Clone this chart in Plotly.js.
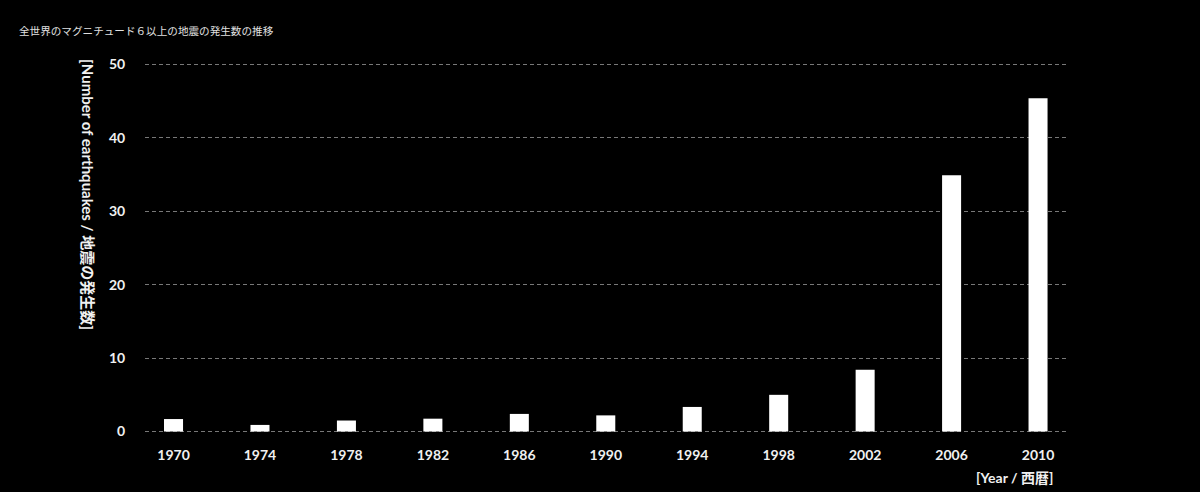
<!DOCTYPE html>
<html>
<head>
<meta charset="utf-8">
<script src="https://cdn.plot.ly/plotly-3.0.1.min.js"></script>
<style>
html,body{margin:0;padding:0;background:#000;}
#chart{width:1200px;height:492px;}
</style>
</head>
<body>
<div id="chart"></div>
<script>
const years = ["1970","1974","1978","1982","1986","1990","1994","1998","2002","2006","2010"];
const counts = [1.7, 0.9, 1.5, 1.75, 2.4, 2.2, 3.35, 5.0, 8.4, 34.9, 45.4];
const yTicks = [0, 10, 20, 30, 40, 50];
const chartTitle = "全世界のマグニチュード６以上の地震の発生数の推移";
const yTitle = "[Number of earthquakes / 地震の発生数]";
const xTitle = "[Year / 西暦]";

const fontFam = "Lato, 'Noto Sans CJK JP', sans-serif";

const trace = {
  type: "bar",
  x: years.map((_, i) => i),
  y: counts,
  marker: {color: "#ffffff", line: {width: 0}},
  width: 0.22,
  hoverinfo: "x+y"
};

const layout = {
  width: 1200, height: 492,
  paper_bgcolor: "#000", plot_bgcolor: "#000",
  margin: {l: 145, r: 133, t: 62.5, b: 58.5},
  showlegend: false,
  font: {family: fontFam, color: "#e6e6e6"},
  xaxis: {
    range: [-0.33, 10.335],
    tickmode: "array",
    tickvals: years.map((_, i) => i),
    ticktext: years.map(y => "<b>" + y + "</b>"),
    showgrid: false, zeroline: false, showline: false, ticks: "outside",
    ticklen: 9, tickcolor: "rgba(0,0,0,0)",
    tickfont: {size: 14, color: "#f0f0f0", family: fontFam}
  },
  yaxis: {
    range: [-0.2, 50.2],
    tickmode: "array",
    tickvals: yTicks,
    ticktext: yTicks.map(v => "<b>" + v + "</b>"),
    showgrid: true, gridcolor: "rgba(200,200,200,0.6)", griddash: "4px,3px", gridwidth: 1,
    zeroline: false, showline: false, ticks: "outside",
    ticklen: 16, tickcolor: "rgba(0,0,0,0)",
    tickfont: {size: 14, color: "#f0f0f0", family: fontFam}
  },
  annotations: [
    {text: chartTitle, xref: "paper", yref: "paper", x: -0.1388, y: 1.0876,
     xanchor: "left", yanchor: "middle", showarrow: false,
     font: {size: 10.6, color: "#e0e0e0", family: "'Noto Sans CJK JP', sans-serif"}},
    {text: "<b>" + yTitle + "</b>", xref: "paper", yref: "paper", x: -0.0618, y: 0.6456,
     xanchor: "center", yanchor: "middle", showarrow: false, textangle: 90,
     font: {size: 15, color: "#f0f0f0", family: fontFam}},
    {text: "<b>" + xTitle + "</b>", xref: "paper", yref: "paper", x: 0.987, y: -0.119,
     xanchor: "right", yanchor: "middle", showarrow: false,
     font: {size: 14, color: "#f0f0f0", family: fontFam}}
  ]
};

Plotly.newPlot("chart", [trace], layout, {displayModeBar: false, staticPlot: true});
</script>
</body>
</html>
